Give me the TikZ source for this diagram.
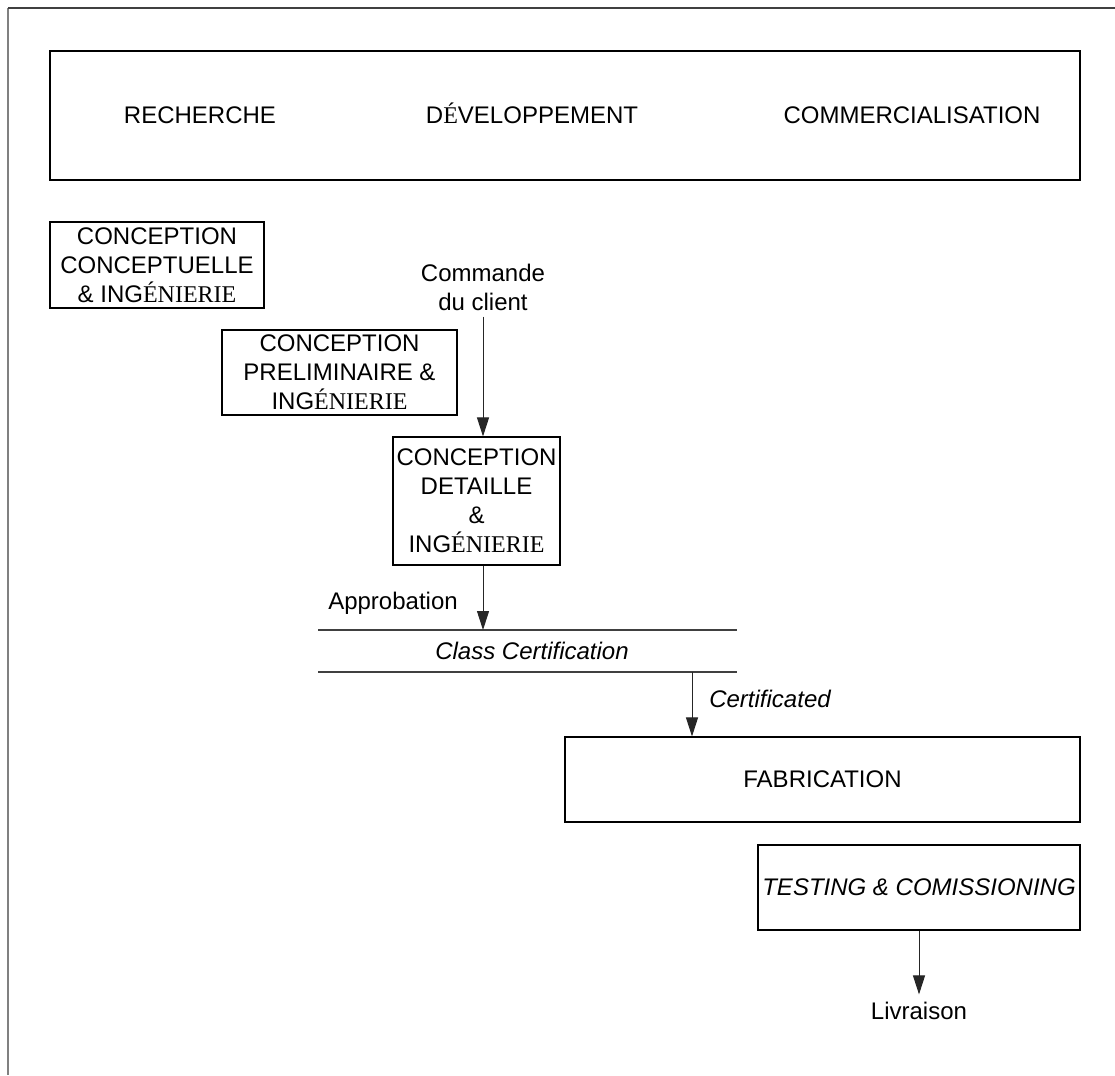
\documentclass[tikz,border=0pt]{standalone}
\usepackage{fontspec}
\setmainfont{Liberation Sans}
\newfontfamily\serifpart{Liberation Serif}
\usetikzlibrary{arrows.meta}
\newcommand{\Ing}{ING{\serifpart ÉNIERIE}}
\begin{document}
\begin{tikzpicture}[x=1pt,y=-1pt,
  every node/.style={font=\fontsize{24}{29}\selectfont, inner sep=0pt, align=center},
  box/.style={draw=black, line width=1.1pt},
  it/.style={font=\fontsize{24}{29}\selectfont\itshape},
  arr/.style={draw=black!85, line width=1pt, -{Triangle[length=19pt,width=12pt]}},
  rule/.style={draw=black!75, line width=1.2pt}]
  \useasboundingbox (0,0) rectangle (1115,1075);

  % page frame (left and top edges)
  \draw[gray, line width=2pt] (8,8) -- (8,1075);
  \draw[black!75, line width=1.4pt] (8,8) -- (1115,8);

  % phase banner
  \node[box, minimum width=1030pt, minimum height=129pt] (top) at (565,115.5) {};
  \node[anchor=base] (rech) at (200,124) {RECHERCHE};
  \node[anchor=base] (dev) at (532,124) {D{\serifpart É}VELOPPEMENT};
  \node[anchor=base] (comm) at (912,124) {COMMERCIALISATION};

  % design stages
  \node[box, minimum width=214pt, minimum height=86pt] (b1) at (157,265)
    {CONCEPTION\\CONCEPTUELLE\\\& \Ing};
  \node[box, minimum width=235pt, minimum height=85pt] (b2) at (339.5,372.5)
    {CONCEPTION\\PRELIMINAIRE \&\\\Ing};
  \node (cmd) at (483,287) {Commande\\du client};
  \node[box, minimum width=167pt, minimum height=128pt] (b3) at (476.5,501)
    {CONCEPTION\\DETAILLE\\\&\\\Ing};

  \draw[arr] ([yshift=-6pt]cmd.south) -- (cmd.south |- b3.north);

  % class certification band
  \coordinate (cl1) at (318,630);
  \coordinate (cr1) at (737,630);
  \coordinate (cl2) at (318,672);
  \coordinate (cr2) at (737,672);
  \draw[rule] (cl1) -- (cr1);
  \draw[rule] (cl2) -- (cr2);
  \node[it] (cls) at (532,651) {Class Certification};

  \draw[arr] (cmd.south |- b3.south) -- (cmd.south |- cl1);
  \node (appr) at (393,603) {Approbation};

  % production
  \node[box, minimum width=515pt, minimum height=85pt] (fab) at (822.5,779.5) {FABRICATION};
  \coordinate (c3) at (692,672);
  \draw[arr] (c3) -- (c3 |- fab.north);
  \node[it] (cert) at (770,699) {Certificated};

  \node[box, minimum width=322pt, minimum height=85pt] (test) at (919,887.5)
    {\itshape TESTING \& COMISSIONING};
  \node[anchor=base] (liv) at (919,1019) {Livraison};
  \draw[arr] (test.south) -- ([yshift=7pt]liv.north);
\end{tikzpicture}
\end{document}
